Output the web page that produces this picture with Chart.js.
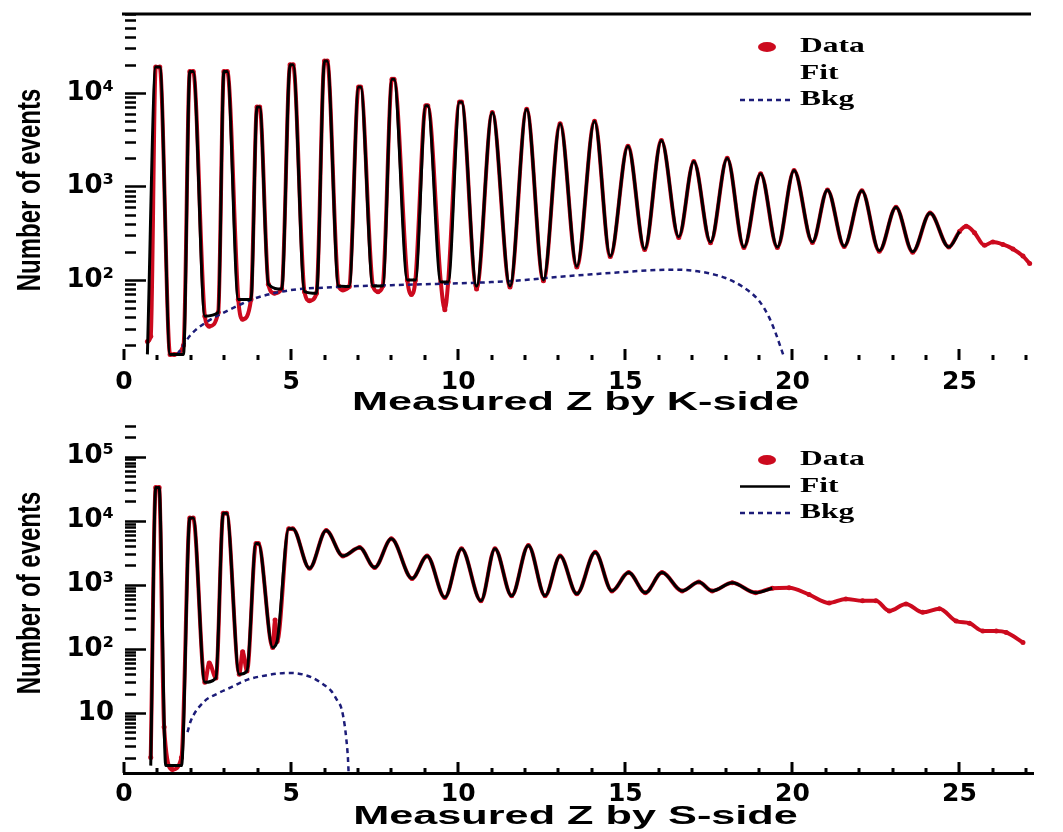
<!DOCTYPE html>
<html>
<head>
<meta charset="utf-8">
<script src="https://cdn.jsdelivr.net/npm/chart.js@4"></script>
<style>
  html, body { margin: 0; padding: 0; background: #fff; }
  canvas { display: block; }
</style>
</head>
<body>
<canvas id="kside" width="1063" height="416"></canvas>
<canvas id="sside" width="1063" height="416"></canvas>
<script>
// ---- K-side spectrum ----
const kFitZ = [0.70, 0.95, 1.07, 1.38, 1.78, 1.97, 2.07, 2.42, 2.82, 2.99, 3.09, 3.42, 3.80, 3.98, 4.06, 4.32, 4.72,
  4.97, 5.06, 5.40, 5.76, 6.00, 6.08, 6.42, 6.74, 7.02, 7.08, 7.45, 7.74, 8.02, 8.08, 8.48, 8.72, 9.03, 9.09, 9.48, 9.70,
  10.04, 10.10, 10.55, 11.02, 11.55, 12.05, 12.55, 13.05, 13.55, 14.08, 14.55, 15.08, 15.58, 16.08, 16.60, 17.05, 17.55,
  18.05, 18.55, 19.05, 19.55, 20.05, 20.60, 21.05, 21.55, 22.08, 22.60, 23.10, 23.60, 24.12, 24.68, 25.00];
const kFitN = [16, 19000, 19000, 16, 16, 17000, 17000, 41, 45, 17000, 17000, 62, 62, 7100, 7100, 90, 80,
  20000, 20000, 75, 72, 22000, 22000, 86, 85, 11600, 11600, 86, 86, 14000, 14000, 100, 100, 7300, 7300, 95, 95,
  8000, 8000, 86, 6200, 86, 6700, 100, 4700, 140, 5000, 180, 2700, 215, 3100, 290, 1850, 255,
  2000, 225, 1370, 225, 1480, 255, 920, 230, 900, 205, 600, 200, 520, 225, 330];

const kDataZ = [0.70, 0.80, 0.95, 1.07, 1.38, 1.50, 1.78, 1.97, 2.07, 2.42, 2.55, 2.82, 2.99, 3.09, 3.42, 3.55, 3.80,
  3.98, 4.06, 4.32, 4.50, 4.72, 4.97, 5.06, 5.40, 5.55, 5.76, 6.00, 6.08, 6.42, 6.55, 6.74, 7.02, 7.08, 7.45, 7.60,
  7.74, 8.02, 8.08, 8.48, 8.60, 8.72, 9.03, 9.09, 9.48, 9.60, 9.70, 10.04, 10.10, 10.55, 11.02, 11.55, 12.05, 12.55,
  13.05, 13.55, 14.08, 14.55, 15.08, 15.58, 16.08, 16.60, 17.05, 17.55, 18.05, 18.55, 19.05, 19.55, 20.05, 20.60,
  21.05, 21.55, 22.08, 22.60, 23.10, 23.60, 24.12, 24.68, 25.00, 25.20, 25.45, 25.75, 26.00, 26.30, 26.60, 26.90, 27.10];
const kDataN = [22, 25, 19000, 19000, 16, 16, 20, 17000, 17000, 41, 32, 45, 17000, 17000, 62, 38, 62,
  7100, 7100, 90, 72, 80, 20000, 20000, 75, 60, 72, 22000, 22000, 86, 78, 85, 11600, 11600, 86, 75,
  86, 14000, 14000, 100, 70, 100, 7300, 7300, 95, 48, 95, 8000, 8000, 80, 6200, 84, 6700, 98,
  4700, 138, 5000, 178, 2700, 212, 3100, 285, 1850, 250, 2000, 222, 1370, 222, 1480, 252,
  920, 228, 900, 203, 600, 198, 520, 225, 330, 375, 320, 235, 255, 240, 215, 180, 150];

const kBkgZ = [1.60, 2.00, 2.50, 3.00, 3.50, 4.00, 5.00, 6.00, 7.00, 8.00, 9.00, 10.00, 11.00, 12.00, 13.00, 14.00,
  15.00, 16.00, 16.50, 17.00, 17.50, 18.00, 18.50, 19.00, 19.30, 19.50, 19.65, 19.75];
const kBkgN = [16, 26, 36, 45, 55, 65, 78, 83, 86, 88, 90, 92, 95, 100, 108, 115,
  122, 128, 129, 126, 118, 105, 85, 60, 40, 27, 19, 15];

// ---- S-side spectrum ----
const sFitZ = [0.80, 0.95, 1.05, 1.25, 1.72, 1.97, 2.07, 2.42, 2.75, 2.97, 3.07, 3.45, 3.68, 3.95, 4.02, 4.45, 4.58,
  4.93, 5.05, 5.55, 6.05, 6.55, 7.05, 7.50, 8.00, 8.62, 9.07, 9.60, 10.10, 10.68, 11.10, 11.60, 12.10, 12.60, 13.05,
  13.55, 14.10, 14.60, 15.10, 15.60, 16.10, 16.70, 17.20, 17.60, 18.20, 18.90, 19.40];
const sFitN = [1.5, 33000, 33000, 1.5, 1.5, 11000, 11000, 30, 35, 13000, 13000, 40, 45, 4400, 4400, 105, 130,
  7500, 7500, 1800, 7000, 2800, 3800, 1850, 5200, 1250, 2800, 630, 3650, 560, 3650, 670, 4100, 670, 2800,
  720, 3200, 800, 1550, 750, 1550, 800, 1100, 800, 1070, 750, 880];

const sDataZ = [0.80, 0.95, 1.05, 1.20, 1.45, 1.72, 1.97, 2.07, 2.42, 2.55, 2.75, 2.97, 3.07, 3.45, 3.55, 3.68, 3.95,
  4.02, 4.45, 4.52, 4.58, 4.93, 5.05, 5.55, 6.05, 6.55, 7.05, 7.50, 8.00, 8.62, 9.07, 9.60, 10.10, 10.68, 11.10,
  11.60, 12.10, 12.60, 13.05, 13.55, 14.10, 14.60, 15.10, 15.60, 16.10, 16.70, 17.20, 17.60, 18.20, 18.90, 19.40,
  19.90, 20.50, 21.10, 21.60, 22.10, 22.50, 22.90, 23.40, 23.90, 24.40, 24.90, 25.30, 25.70, 26.10, 26.40, 26.90];
const sDataN = [2, 33000, 33000, 6, 1.3, 2, 11000, 11000, 30, 60, 35, 13000, 13000, 40, 90, 45, 4400,
  4400, 105, 280, 130, 7500, 7500, 1800, 7000, 2800, 3800, 1850, 5200, 1250, 2800, 630, 3650, 560, 3650,
  670, 4100, 670, 2800, 720, 3200, 800, 1550, 750, 1550, 800, 1100, 800, 1070, 750, 880,
  900, 700, 520, 600, 560, 560, 390, 500, 370, 420, 270, 250, 190, 190, 180, 125];

const sBkgZ = [1.90, 2.00, 2.40, 2.80, 3.20, 3.70, 4.20, 4.60, 5.00, 5.60, 6.00, 6.20, 6.40, 6.50, 6.60, 6.65, 6.70, 6.72];
const sBkgN = [5, 7.5, 15, 20, 25, 33, 38, 41, 42, 36, 27, 22, 15, 12, 6.6, 4, 2, 1.2];

// ---- axis labels ----
const zTicks = [0, 5, 10, 15, 20, 25];
const yDecades = [10, 100, 1000, 10000, 100000];
const yDecadeLabels = ['10', '10\u00b2', '10\u00b3', '10\u2074', '10\u2075'];
const seriesNames = ['Data', 'Fit', 'Bkg'];
const yTitle = 'Number of events';

const RED = '#cc0a1e';
const NAVY = '#1c1c78';

function pts(zs, ns) {
  return zs.map((z, i) => ({ x: z, y: ns[i] }));
}

function isDecade(v) {
  const e = Math.log10(v);
  return Math.abs(e - Math.round(e)) < 1e-9;
}

// text scaled about its anchor (sx along the page width, sy along the page height, before rotation)
function wideText(ctx, text, x, y, font, sx, align, rot, sy) {
  ctx.save();
  ctx.translate(x, y);
  if (rot) ctx.rotate(rot);
  ctx.scale(sx, sy || 1);
  ctx.font = font;
  ctx.textAlign = align;
  ctx.textBaseline = 'middle';
  ctx.fillStyle = '#000';
  ctx.fillText(text, 0, 0);
  ctx.restore();
}

function noPad(s) {
  s.paddingTop = 0;
  s.paddingBottom = 0;
  s.paddingLeft = 0;
  s.paddingRight = 0;
}

// inward ticks, frame line, axis titles and legend
const panelDecor = {
  id: 'panelDecor',
  afterDraw(chart, args, o) {
    const { ctx, chartArea: a, scales: { x, y } } = chart;
    ctx.save();
    ctx.strokeStyle = '#000';
    ctx.lineCap = 'butt';

    // y ticks (1..9 x 10^n), long at each decade
    ctx.lineWidth = 2.5;
    y.ticks.forEach(t => {
      const v = t.value;
      const m = v / Math.pow(10, Math.floor(Math.log10(v) + 1e-9));
      if (Math.abs(m - Math.round(m)) > 1e-6) return;
      const py = Math.round(y.getPixelForValue(v)) + 0.5;
      ctx.beginPath();
      ctx.moveTo(a.left + 1, py);
      ctx.lineTo(a.left + (isDecade(v) ? 22 : 12), py);
      ctx.stroke();
    });

    // x ticks every unit of Z
    ctx.lineWidth = 3;
    for (let z = 0; z <= Math.floor(x.max); z++) {
      const px = Math.round(x.getPixelForValue(z));
      const major = z % 5 === 0;
      ctx.beginPath();
      ctx.moveTo(px, a.bottom + o.tickBase);
      ctx.lineTo(px, a.bottom + o.tickBase - (major ? 11 : 5));
      ctx.stroke();
    }

    if (o.topLine) {
      ctx.lineWidth = 3;
      ctx.beginPath();
      ctx.moveTo(a.left - 2, a.top);
      ctx.lineTo(a.right - 2, a.top);
      ctx.stroke();
    }
    ctx.restore();

    wideText(ctx, o.xTitle, (a.left + a.right) / 2 - 3, o.xTitleY, 'bold 25px "Liberation Sans"', 1.73, 'center');
    // rotated y title, glyphs widened along the page x direction
    wideText(ctx, yTitle, 31, o.yTitleY, 'bold 24px "Liberation Sans"', 1, 'center', -Math.PI / 2, 1.4);

    // legend
    const lg = o.legend;
    seriesNames.forEach((name, i) => {
      const ly = lg.y + i * lg.gap;
      const ds = chart.data.datasets.find(d => d.label === name);
      ctx.save();
      if (name === 'Data') {
        ctx.fillStyle = ds.borderColor;
        ctx.beginPath();
        ctx.ellipse(lg.x + 27, ly, 9, 5, 0, 0, Math.PI * 2);
        ctx.fill();
      } else if (!(name === 'Fit' && !lg.fitLine)) {
        ctx.strokeStyle = ds.borderColor;
        ctx.lineWidth = 2.5;
        ctx.setLineDash(ds.borderDash || []);
        ctx.beginPath();
        ctx.moveTo(lg.x, ly);
        ctx.lineTo(lg.x + 50, ly);
        ctx.stroke();
      }
      ctx.restore();
      wideText(ctx, name, lg.x + 60, ly, 'bold 21px "Liberation Serif"', 1.5, 'left');
    });
  }
};

function makePanel(id, p) {
  return new Chart(document.getElementById(id), {
    type: 'line',
    data: {
      datasets: [
        {
          label: 'Fit', data: pts(p.fitZ, p.fitN), order: 0,
          borderColor: '#000', borderWidth: 3, pointRadius: 0,
          cubicInterpolationMode: 'monotone'
        },
        {
          label: 'Bkg', data: pts(p.bkgZ, p.bkgN), order: 1,
          borderColor: NAVY, borderWidth: 2.5, borderDash: [5, 4], pointRadius: 0,
          cubicInterpolationMode: 'monotone'
        },
        {
          label: 'Data', data: pts(p.dataZ, p.dataN), order: 2,
          borderColor: RED, backgroundColor: RED, borderWidth: 4,
          pointRadius: 2.5, pointBackgroundColor: RED, pointBorderWidth: 0,
          cubicInterpolationMode: 'monotone'
        }
      ]
    },
    options: {
      responsive: false,
      animation: false,
      events: [],
      layout: { padding: { top: p.padTop, right: 30, bottom: 0, left: 0 } },
      plugins: {
        legend: { display: false },
        tooltip: { enabled: false },
        panelDecor: {
          topLine: p.topLine, tickBase: p.tickBase,
          xTitle: p.xTitle, xTitleY: p.xTitleY, yTitleY: p.yTitleY,
          legend: p.legend
        }
      },
      scales: {
        x: {
          type: 'linear', min: 0, max: 27.2,
          afterBuildTicks: s => { s.ticks = zTicks.map(v => ({ value: v })); },
          afterFit: s => { s.height = 59; noPad(s); },
          border: { display: p.bottomLine, color: '#000', width: 3 },
          grid: { display: false, drawTicks: false },
          ticks: {
            padding: p.xLabelPad, color: '#000', autoSkip: false, maxRotation: 0,
            font: { family: 'DejaVu Sans', size: 25, weight: 'bold' },
            callback: v => String(v)
          }
        },
        y: {
          type: 'logarithmic', min: p.yMin, max: p.yMax,
          afterFit: s => { s.width = 124; noPad(s); },
          border: { display: false },
          grid: { display: false, drawTicks: false },
          ticks: {
            padding: 10, color: '#000', autoSkip: false,
            font: { family: 'DejaVu Sans', size: 26, weight: 'bold' },
            callback: v => {
              const i = yDecades.findIndex(d => Math.abs(d - v) < 1e-6 * d);
              return i >= 0 ? yDecadeLabels[i] : '';
            }
          }
        }
      }
    },
    plugins: [panelDecor]
  });
}

makePanel('kside', {
  fitZ: kFitZ, fitN: kFitN, dataZ: kDataZ, dataN: kDataN, bkgZ: kBkgZ, bkgN: kBkgN,
  yMin: 15, yMax: 70000, padTop: 14, topLine: true, bottomLine: false, tickBase: 3,
  xLabelPad: 10, xTitle: 'Measured Z by K-side', xTitleY: 403, yTitleY: 190,
  legend: { x: 740, y: 47, gap: 26.5, fitLine: false }
});

makePanel('sside', {
  fitZ: sFitZ, fitN: sFitN, dataZ: sDataZ, dataN: sDataN, bkgZ: sBkgZ, bkgN: sBkgN,
  yMin: 1.15, yMax: 300000, padTop: 10, topLine: false, bottomLine: true, tickBase: 0,
  xLabelPad: 6, xTitle: 'Measured Z by S-side', xTitleY: 401, yTitleY: 177,
  legend: { x: 740, y: 44, gap: 26.5, fitLine: true }
});
</script>
</body>
</html>
